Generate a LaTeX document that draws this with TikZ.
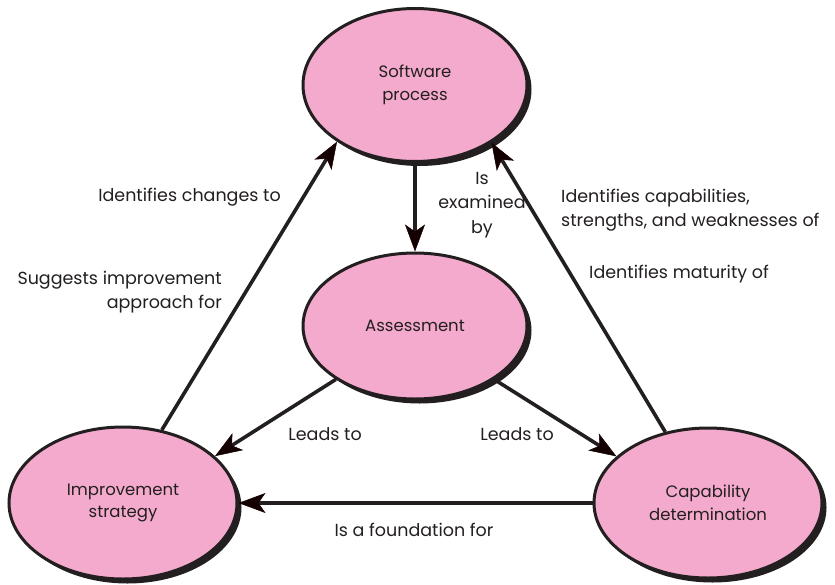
\documentclass[tikz,border=0pt]{standalone}
\usepackage{fontspec}
\setmainfont{Poppins}
\usetikzlibrary{shapes.geometric,arrows.meta,shadows}
\definecolor{pinkfill}{RGB}{244,170,204}
\definecolor{ink}{RGB}{35,31,32}
\definecolor{tipcol}{RGB}{20,0,0}
\begin{document}
\begin{tikzpicture}[x=1pt,y=-1pt,
  bubble/.style={ellipse, draw=ink, line width=3pt, fill=pinkfill,
    inner sep=0pt, align=center, text=ink, font=\fontsize{16.5}{22.5}\selectfont,
    drop shadow={shadow xshift=4.5pt, shadow yshift=-4.5pt, fill=ink, opacity=1}},
  link/.style={draw=ink, line width=3.6pt,
    -{Stealth[length=27pt 0,width=20pt 0,inset=7pt,color=tipcol,line width=0.5pt]}},
  lbl/.style={inner sep=0pt, text=ink, font=\fontsize{17.5}{24.5}\selectfont}]
\useasboundingbox (0,0) rectangle (835,584);
\node[bubble, minimum width=224pt, minimum height=153pt] (SP) at (415,85) {Software\\process};
\node[bubble, minimum width=224pt, minimum height=146pt] (A) at (415,326) {Assessment};
\node[bubble, minimum width=228pt, minimum height=152pt] (IS) at (123,503) {Improvement\\strategy};
\node[bubble, minimum width=228pt, minimum height=150pt] (CD) at (708,503) {Capability\\determination};

\draw[link] (SP.south) -- (A.north);
\draw[link] (IS.62) -- (SP.216);
\draw[link] (CD.121) -- (SP.323);
\draw[link] (A.214) -- (IS.27);
\draw[link] (A.326) -- (CD.153);
\draw[link] (CD.west) -- (IS.east);

\node[lbl, anchor=east] (l1) at (281,197) {Identifies changes to};
\node[lbl, anchor=east, align=right] (l2) at (222,292) {Suggests improvement\\approach for};
\node[lbl, align=center] (l3) at (482,205) {Is\\examined\\by};
\node[lbl, anchor=west, align=left] (l4) at (561,210) {Identifies capabilities,\\strengths, and weaknesses of};
\node[lbl, anchor=west] (l5) at (589,274) {Identifies maturity of};
\node[lbl] (l6) at (325,434) {Leads to};
\node[lbl] (l7) at (517,434) {Leads to};
\node[lbl] (l8) at (414,530) {Is a foundation for};
\end{tikzpicture}
\end{document}
